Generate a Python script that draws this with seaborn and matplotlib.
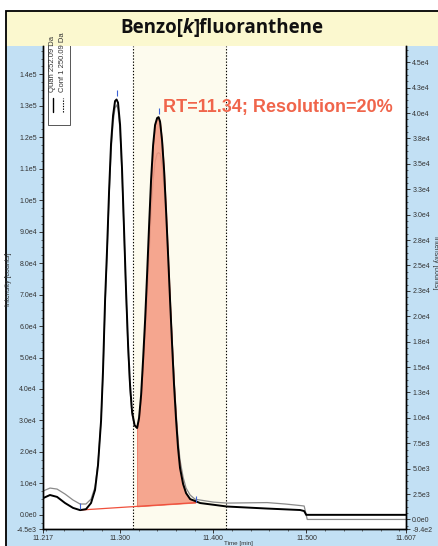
import numpy as np
import pandas as pd
import matplotlib
matplotlib.use('Agg')
import matplotlib.pyplot as plt
import seaborn as sns
from matplotlib.patches import Rectangle
from matplotlib.ticker import FixedLocator, MultipleLocator

# Quan trace (left axis, counts)
quan_time = [11.2170, 11.2245, 11.2321, 11.2407, 11.2493, 11.2568, 11.2632, 11.2686,
             11.2729, 11.2761, 11.2794, 11.2815, 11.2837, 11.2858, 11.2880, 11.2901,
             11.2923, 11.2944, 11.2960, 11.2976, 11.2998, 11.3019, 11.3041, 11.3062,
             11.3084, 11.3105, 11.3127, 11.3154, 11.3181, 11.3202, 11.3224, 11.3245,
             11.3267, 11.3288, 11.3310, 11.3331, 11.3353, 11.3374, 11.3396, 11.3412,
             11.3428, 11.3449, 11.3471, 11.3492, 11.3514, 11.3535, 11.3557, 11.3578,
             11.3600, 11.3621, 11.3642, 11.3675, 11.3707, 11.3751, 11.3804, 11.3858,
             11.4148, 11.4578, 11.4933, 11.4976, 11.4998, 11.5019, 11.6070]
quan_counts = [5300, 6300, 5700, 3750, 2200, 1500, 1800, 3750,
               7900, 15800, 30000, 46000, 68300, 84200, 103000, 118000,
               127000, 131500, 132000, 131000, 124000, 110000, 90500, 71500,
               54000, 41400, 32700, 28500, 27600, 30800, 38100, 49200,
               61900, 76200, 92100, 106400, 117500, 123900, 126100, 126400,
               124900, 119000, 109500, 96800, 82500, 68300, 54000, 41200,
               30100, 21200, 14900, 9800, 6900, 5000, 4400, 3750,
               2640, 2000, 1530, 1200, 0, 0, 0]

# Conf trace (right axis, counts)
conf_time = [11.2170, 11.2245, 11.2321, 11.2407, 11.2493, 11.2568, 11.2632, 11.2686,
             11.2729, 11.2761, 11.2794, 11.2815, 11.2837, 11.2858, 11.2880, 11.2901,
             11.2923, 11.2944, 11.2960, 11.2976, 11.2998, 11.3019, 11.3041, 11.3062,
             11.3084, 11.3105, 11.3127, 11.3154, 11.3181, 11.3202, 11.3224, 11.3245,
             11.3267, 11.3288, 11.3310, 11.3331, 11.3353, 11.3374, 11.3396, 11.3412,
             11.3428, 11.3449, 11.3471, 11.3492, 11.3514, 11.3535, 11.3557, 11.3578,
             11.3600, 11.3621, 11.3642, 11.3675, 11.3707, 11.3751, 11.3804, 11.3998,
             11.4148, 11.4578, 11.4772, 11.4933, 11.4976, 11.5009, 11.6070]
conf_counts = [2790, 3090, 2990, 2500, 1910, 1520, 1520, 2000,
               3190, 5550, 9780, 14500, 21100, 26000, 31800, 36200,
               39100, 40500, 40800, 40400, 38300, 33900, 28000, 22100,
               16700, 12700, 10300, 9190, 8990, 9780, 11700, 14700,
               18100, 21800, 26000, 30200, 33400, 35200, 36000, 36100,
               36000, 34900, 32600, 29500, 25700, 21600, 17700, 13900,
               10600, 7810, 5850, 4170, 3090, 2400, 1990, 1710,
               1610, 1660, 1520, 1370, 1320, 0, 0]

# integration baseline and window
base_time = [11.2568, 11.3815]
base_counts = [1520, 3900]
fill_start, fill_end = 11.3181, 11.3804
window = [11.3138, 11.4138]
apex_time = [11.2960, 11.3412, 11.2568, 11.3815]
apex_counts = [134000, 128500, 2700, 5000]

left_ticks = [-4500] + list(range(0, 140001, 10000))
left_labels = ['-4.5e3', '0.0e0', '1.0e4', '2.0e4', '3.0e4', '4.0e4', '5.0e4', '6.0e4',
               '7.0e4', '8.0e4', '9.0e4', '1.0e5', '1.1e5', '1.2e5', '1.3e5', '1.4e5']
right_ticks = [-940] + list(range(0, 45001, 2500))
right_labels = ['-9.4e2', '0.0e0', '2.5e3', '5.0e3', '7.5e3', '1.0e4', '1.3e4', '1.5e4',
                '1.8e4', '2.0e4', '2.3e4', '2.5e4', '2.8e4', '3.0e4', '3.3e4', '3.5e4',
                '3.8e4', '4.0e4', '4.3e4', '4.5e4']
x_ticks = [11.217, 11.3, 11.4, 11.5, 11.607]
x_labels = ['11.217', '11.300', '11.400', '11.500', '11.607']

quan = pd.DataFrame({'time': quan_time, 'counts': quan_counts})
conf = pd.DataFrame({'time': conf_time, 'counts': conf_counts})

sns.set_style('ticks')
plt.rcParams['font.family'] = ['Liberation Sans', 'DejaVu Sans']

W, H = 438, 546
fig = plt.figure(figsize=(W / 100, H / 100), dpi=100)


def fx(px):
    return px / W


def fy(py):
    return 1 - py / H


blue = '#c2e0f4'
yellow = '#fbf8cf'
fig.add_artist(Rectangle((fx(6), fy(560)), fx(460) - fx(6), fy(11) - fy(560),
                         transform=fig.transFigure, facecolor=blue, edgecolor='none', zorder=-3))
fig.add_artist(Rectangle((fx(6), fy(46)), fx(460) - fx(6), fy(11) - fy(46),
                         transform=fig.transFigure, facecolor=yellow, edgecolor='none', zorder=-2))
fig.add_artist(Rectangle((fx(6), fy(560)), fx(460) - fx(6), fy(11) - fy(560),
                         transform=fig.transFigure, facecolor='none', edgecolor='black',
                         lw=1.3, zorder=-1))

# title in three pieces so the k can be italic
title_kw = dict(family='Open Sans', weight='bold', fontsize=13.5, color='#111111', va='center')
t1 = fig.text(fx(124), fy(28), 'Benzo[', ha='left', **title_kw)
t2 = fig.text(0, 0, 'k', ha='left', style='italic', **title_kw)
t3 = fig.text(0, 0, ']fluoranthene', ha='left', **title_kw)
renderer = fig.canvas.get_renderer()
pos = fig.transFigure.inverted()
bb1 = t1.get_window_extent(renderer)
t2.set_position((pos.transform((bb1.x1, 0))[0], fy(28)))
bb2 = t2.get_window_extent(renderer)
t3.set_position((pos.transform((bb2.x1 + 0.5, 0))[0], fy(28)))
bb3 = t3.get_window_extent(renderer)
shift = (222 - (bb1.x0 + bb3.x1) / 2) / W
for t in (t1, t2, t3):
    x0, y0 = t.get_position()
    t.set_position((x0 + shift, y0))

ax = fig.add_axes([fx(43), fy(529), (406 - 43) / W, (529 - 46) / H])
ax2 = ax.twinx()
ax.set_zorder(ax2.get_zorder() + 1)
ax.patch.set_visible(False)
ax2.patch.set_visible(True)
ax2.patch.set_facecolor('white')

# background layer: window and conf trace
ax2.axvspan(window[0], window[1], color='#fdfbee', zorder=0)
for w in window:
    ax2.axvline(w, color='black', lw=0.8, ls=(0, (1.2, 1.6)), zorder=1)
sns.lineplot(data=conf, x='time', y='counts', ax=ax2, color='#8a8a8a', lw=0.9,
             sort=False, zorder=2)

# front layer: integrated peak and quan trace
seg = quan[(quan['time'] >= fill_start) & (quan['time'] <= fill_end)]
base_under = np.interp(seg['time'], base_time, base_counts)
ax.fill_between(seg['time'], base_under, seg['counts'], facecolor='#f4977f', alpha=0.85,
                edgecolor='#e9604a', lw=0.6, zorder=1)
sns.lineplot(x=base_time, y=base_counts, ax=ax, color='#f0503c', lw=0.9, zorder=2)
sns.lineplot(data=quan, x='time', y='counts', ax=ax, color='black', lw=1.4,
             sort=False, zorder=3)
ax.scatter(apex_time, apex_counts, marker='|', s=14, color='#3b62d6', lw=0.8, zorder=4)

ax.text(11.346, 129500, 'RT=11.34; Resolution=20%', color='#f0654b', fontsize=13,
        weight='bold', ha='left', va='center', zorder=5)

# legend box drawn rotated
ax.add_patch(Rectangle((0.0138, 0.836), 0.0606, 0.3, transform=ax.transAxes,
                       facecolor='white', edgecolor='#555555', lw=0.7, zorder=6))
ax.text(0.0275, 0.905, 'Quan 252.09 Da', transform=ax.transAxes, rotation=90,
        fontsize=5.5, ha='center', va='bottom', color='#333333', zorder=7)
ax.text(0.055, 0.905, 'Conf 1 250.09 Da', transform=ax.transAxes, rotation=90,
        fontsize=5.5, ha='center', va='bottom', color='#333333', zorder=7)
ax.plot([0.0275, 0.0275], [0.863, 0.892], transform=ax.transAxes, color='black',
        lw=1.0, zorder=7)
ax.plot([0.055, 0.055], [0.863, 0.892], transform=ax.transAxes, color='black',
        lw=0.8, ls=(0, (1.2, 1.2)), zorder=7)

ax.set_xlim(11.217, 11.607)
ax.set_ylim(-4500, 149000)
ax2.set_ylim(-940, 46600)

ax.xaxis.set_major_locator(FixedLocator(x_ticks))
ax.set_xticklabels(x_labels)
ax.xaxis.set_minor_locator(MultipleLocator(0.02))
ax.yaxis.set_major_locator(FixedLocator(left_ticks))
ax.set_yticklabels(left_labels)
ax.yaxis.set_minor_locator(MultipleLocator(2500))
ax2.yaxis.set_major_locator(FixedLocator(right_ticks))
ax2.set_yticklabels(right_labels)
ax2.yaxis.set_minor_locator(MultipleLocator(625))

for a in (ax, ax2):
    a.tick_params(which='major', length=3, width=0.7, labelsize=5, colors='#333333', pad=1.5)
    a.tick_params(which='minor', length=1.6, width=0.5, colors='#333333')
    a.set_xlabel('')
    a.set_ylabel('')
    a.spines['top'].set_visible(False)
    for s in ('left', 'right', 'bottom'):
        a.spines[s].set_color('black')
        a.spines[s].set_linewidth(1.0)
ax.tick_params(axis='x', which='major', pad=1)

fig.text(fx(9), fy(279), 'Intensity [counts]', rotation=90, fontsize=5,
         ha='center', va='center', color='#333333')
fig.text(fx(435), fy(263), 'Intensity [counts]', rotation=270, fontsize=5,
         ha='center', va='center', color='#333333')
fig.text(fx(238), fy(545.5), 'Time [min]', fontsize=4.5, ha='center', va='bottom',
         color='#333333')

fig.savefig('out.png', dpi=100)
